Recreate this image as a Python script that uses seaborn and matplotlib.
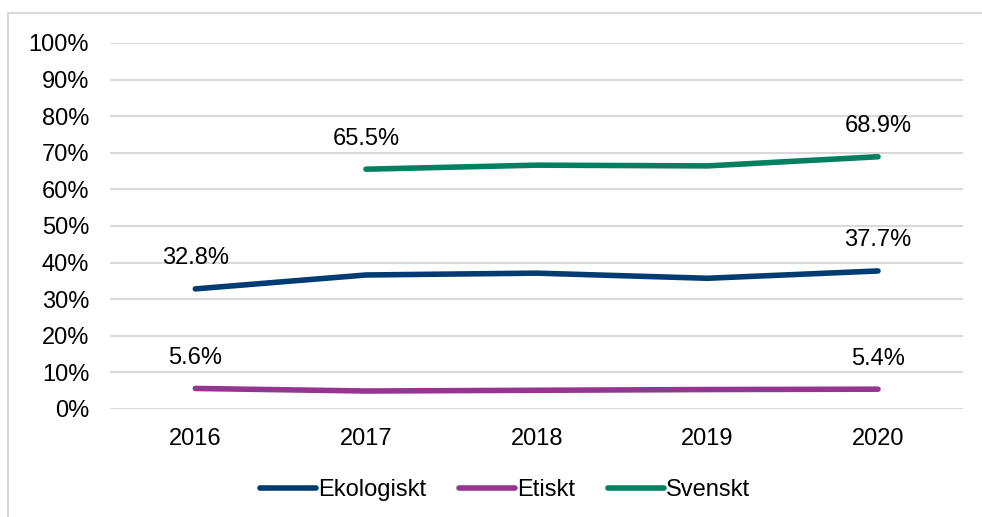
import seaborn as sns
import matplotlib.pyplot as plt
import matplotlib.patches as mpatches
import pandas as pd
import numpy as np

years = [2016, 2017, 2018, 2019, 2020]
ekologiskt = [32.8, 36.6, 37.1, 35.7, 37.7]
etiskt = [5.6, 4.9, 5.1, 5.3, 5.4]
svenskt = [np.nan, 65.5, 66.6, 66.4, 68.9]
series = ['Ekologiskt', 'Etiskt', 'Svenskt']
colors = ['#003b71', '#953590', '#00805f']

df = pd.DataFrame({'year': years, 'Ekologiskt': ekologiskt, 'Etiskt': etiskt, 'Svenskt': svenskt})
long = df.melt(id_vars='year', var_name='serie', value_name='value').dropna()

sns.set_style('white')
plt.rcParams['font.family'] = ['Liberation Sans', 'DejaVu Sans']
plt.rcParams['text.color'] = 'black'
fs = 17

fig = plt.figure(figsize=(9.82, 5.17), dpi=100)
ax = fig.add_axes([0.112, 0.209, 0.869, 0.708])

# outer chart frame (left and top edges visible)
fig.patches.append(mpatches.Rectangle((8 / 982, -0.1), 1.2, 1 - 13 / 517 + 0.1, transform=fig.transFigure,
                                      fill=False, edgecolor='#d9d9d9', linewidth=1.5, zorder=0))

sns.lineplot(data=long, x='year', y='value', hue='serie', hue_order=series, palette=colors,
             linewidth=4, ax=ax, legend=True, solid_capstyle='round')

ax.set_ylim(0, 100)
ax.set_xlim(2015.5, 2020.5)
ax.set_xticks(years)
ax.set_xticklabels([str(y) for y in years])
ax.set_yticks(range(0, 101, 10))
ax.set_yticklabels([f'{v}%' for v in range(0, 101, 10)])
ax.yaxis.grid(True, color='#d9d9d9', linewidth=1.5)
ax.set_axisbelow(True)
for s in ax.spines.values():
    s.set_visible(False)
ax.tick_params(axis='both', labelsize=fs, length=0, colors='black')
ax.tick_params(axis='x', pad=14)
ax.tick_params(axis='y', pad=15)
ax.set_xlabel('')
ax.set_ylabel('')

# labels at first and last point of each series
for name in series:
    vals = df[['year', name]].dropna()
    for _, row in vals.iloc[[0, -1]].iterrows():
        ax.annotate(f'{row[name]:.1f}%', (row['year'], row[name]), xytext=(0, 22),
                    textcoords='offset points', ha='center', va='center', fontsize=fs, color='black')

handles, labels = ax.get_legend_handles_labels()
ax.get_legend().remove()
fig.legend(handles, labels, loc='center', bbox_to_anchor=(0.514, 0.052), ncol=3, frameon=False,
           fontsize=fs, handlelength=2.4, handletextpad=0.05, columnspacing=1.4)

fig.savefig('out.png', dpi=100)
